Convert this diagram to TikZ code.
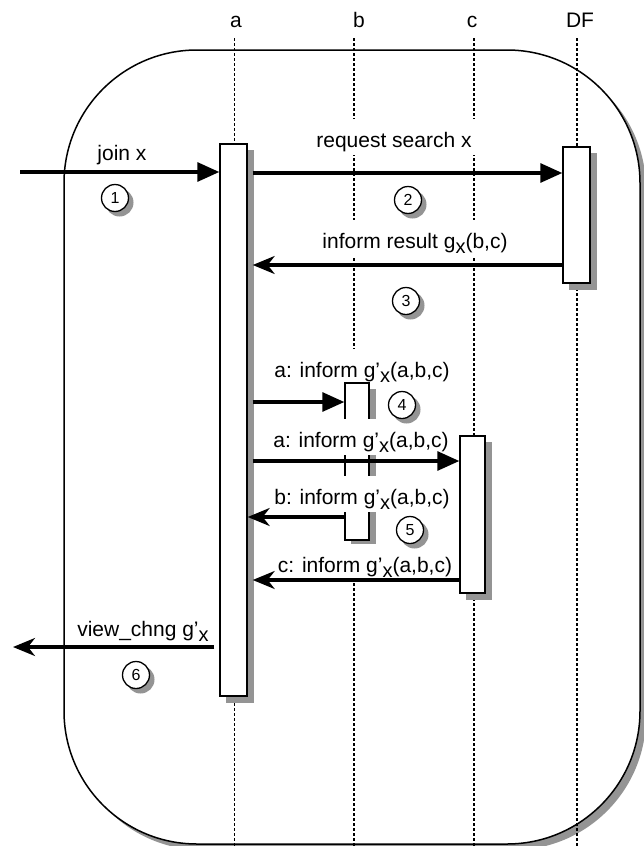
\documentclass[tikz,border=0pt]{standalone}
\usepackage{fontspec}
\setmainfont{Liberation Sans}
\usetikzlibrary{arrows.meta}
\definecolor{shadowgray}{rgb}{0.58,0.58,0.58}

% lowered subscript x and the g'_x symbol
\newcommand\subx{\raisebox{-5pt}{\fontsize{20}{20}\selectfont x}}
\newcommand\gpx{g\textquoteright\subx}

\begin{document}
\begin{tikzpicture}[x=1pt,y=-1pt,
  every node/.style={font=\fontsize{21}{25}\selectfont},
  backshadow/.style={fill=shadowgray, draw=none},
  frame/.style={draw, line width=1.5pt, fill=white, rounded corners=133pt},
  lifeline/.style={line width=1.3pt, dash pattern=on 2.5pt off 2.5pt},
  actbox/.style={draw, line width=1.4pt, fill=white, inner sep=0pt},
  msglabel/.style={fill=white, anchor=base, inner xsep=6pt, inner ysep=0pt,
    text height=28pt, text depth=8pt},
  msg/.style={line width=3.1pt},
  tor/.style={msg, -{Triangle[length=22pt, width=19pt]}},
  tol/.style={msg, -{Stealth[length=22pt, width=18pt, inset=7pt]}},
  stepno/.style={draw, circle, line width=1.3pt, fill=white, minimum size=27pt,
    inner sep=0pt, font=\fontsize{16}{16}\selectfont},
]
\useasboundingbox (0,0) rectangle (644,846);

% enclosing group frame with its shadow
\fill[shadowgray, rounded corners=133pt] (70,56) rectangle (646,850);
\draw[frame] (64,50) rectangle (640,844);

% lifelines and their names
\foreach \n/\x in {a/234.5, b/354, c/474, df/577} {
  \coordinate (\n top) at (\x,38);
  \coordinate (\n bot) at (\x,846);
  \draw[lifeline] (\n top) -- (\n bot);
}
\node[anchor=base] (aName)  at (236,27) {a};
\node[anchor=base] (bName)  at (359,27) {b};
\node[anchor=base] (cName)  at (472,27) {c};
\node[anchor=base] (dfName) at (580,27) {DF};

\node[msglabel] (l4) at (362,377) {a: inform \gpx(a,b,c)};

% activation boxes, each over its shadow
\fill[shadowgray] (226,150) rectangle (254,703);
\node[actbox, minimum width=27pt, minimum height=552pt] (aBox)  at (233.5,420) {};
\fill[shadowgray] (569,153) rectangle (597,290);
\node[actbox, minimum width=27pt, minimum height=136pt] (dfBox) at (576.5,215) {};
\fill[shadowgray] (351,389) rectangle (376,547);
\node[actbox, minimum width=24pt, minimum height=157pt] (bBox)  at (357,461.5) {};
\fill[shadowgray] (466,442) rectangle (492,600);
\node[actbox, minimum width=25pt, minimum height=157pt] (cBox)  at (472.5,514.5) {};

% message labels
\node[msglabel] (l1) at (122,160) {join x};
\node[msglabel] (l2) at (394,147) {request search x};
\node[msglabel] (l3) at (415,248) {inform result g\subx(b,c)};
\node[msglabel] (l5) at (361,447) {a: inform \gpx(a,b,c)};
\node[msglabel] (l6) at (362,504) {b: inform \gpx(a,b,c)};
\node[msglabel] (l7) at (365,572) {c: inform \gpx(a,b,c)};
\node[msglabel] (l8) at (143,636) {view\_chng \gpx};

% messages
\coordinate (aR) at ([xshift=5pt]aBox.east);
\coordinate (aL) at ([xshift=-5pt]aBox.west);
\coordinate (in1) at (20,172);
\coordinate (out6) at (13,647);
\draw[tor] (in1) -- (aBox.west |- 0,172);
\draw[tor] (aR |- 0,173) -- (dfBox.west |- 0,173);
\draw[tol] (dfBox.west |- 0,265) -- (aR |- 0,265);
\draw[tor] (aR |- 0,402) -- (bBox.west |- 0,402);
\draw[tor] (aR |- 0,461) -- (cBox.west |- 0,461);
\draw[tol] (bBox.west |- 0,517) -- (aBox.east |- 0,517);
\draw[tol] (cBox.west |- 0,580) -- (aR |- 0,580);
\draw[tol] (aL |- 0,647) -- (out6);

% step numbers, each over its shadow
\foreach \nm/\num/\cx/\cy in {s1/1/115/198, s2/2/408/200, s3/3/406/301,
                              s4/4/402/405, s5/5/410/530, s6/6/136/675} {
  \fill[shadowgray] (\cx+4.5,\cy+4.5) circle (14pt);
  \node[stepno] (\nm) at (\cx,\cy) {\num};
}
\end{tikzpicture}
\end{document}
